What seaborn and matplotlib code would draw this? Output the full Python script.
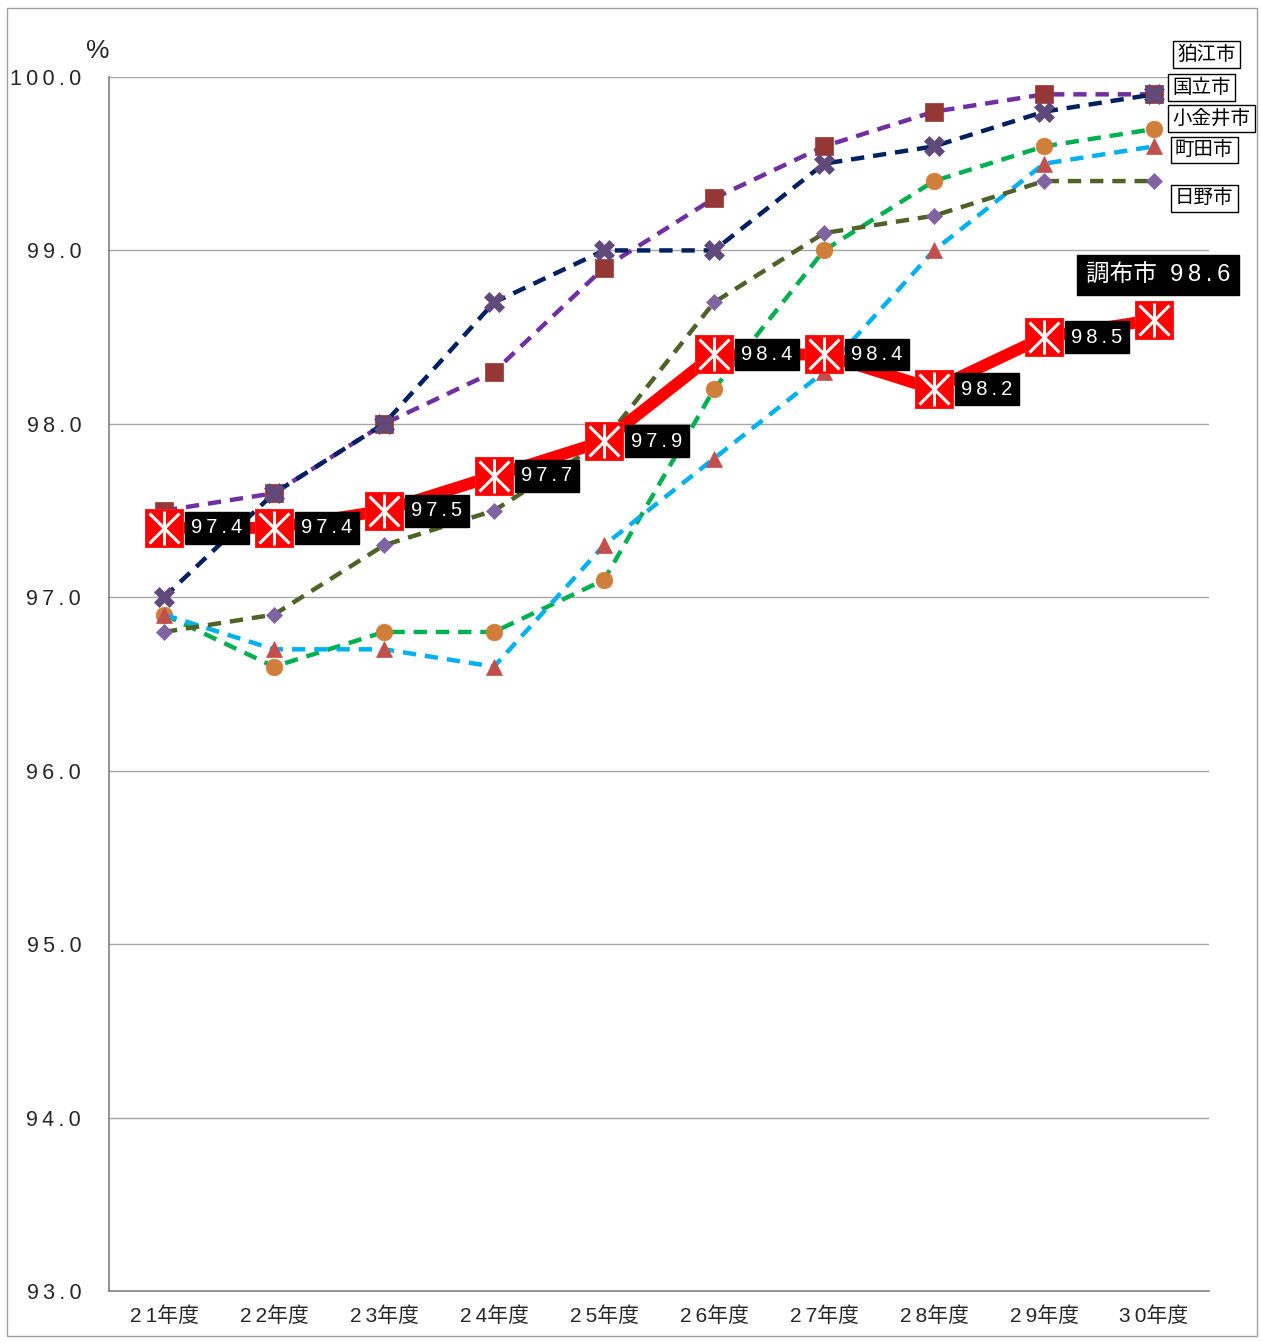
import matplotlib
matplotlib.use("Agg")
import matplotlib.pyplot as plt
import matplotlib.patches as patches
import numpy as np
import seaborn as sns

# data
years = ["21年度", "22年度", "23年度", "24年度", "25年度",
         "26年度", "27年度", "28年度", "29年度", "30年度"]
komae = [97.5, 97.6, 98.0, 98.3, 98.9, 99.3, 99.6, 99.8, 99.9, 99.9]
kunitachi = [97.0, 97.6, 98.0, 98.7, 99.0, 99.0, 99.5, 99.6, 99.8, 99.9]
koganei = [96.9, 96.6, 96.8, 96.8, 97.1, 98.2, 99.0, 99.4, 99.6, 99.7]
machida = [96.9, 96.7, 96.7, 96.6, 97.3, 97.8, 98.3, 99.0, 99.5, 99.6]
hino = [96.8, 96.9, 97.3, 97.5, 97.9, 98.7, 99.1, 99.2, 99.4, 99.4]
chofu = [97.4, 97.4, 97.5, 97.7, 97.9, 98.4, 98.4, 98.2, 98.5, 98.6]
city_names = ["狛江市", "国立市", "小金井市", "町田市", "日野市"]
y_ticks = [93.0, 94.0, 95.0, 96.0, 97.0, 98.0, 99.0, 100.0]

sns.set_style("white")
plt.rcParams['font.family'] = ['Liberation Sans', 'DejaVu Sans', 'Noto Sans CJK JP']

TS = "\u2009"  # thin space for letter spacing


def spaced(s):
    return TS.join(list(s))


fig = plt.figure(figsize=(12.61, 13.43), dpi=100)
ax = fig.add_axes([109 / 1261, 1 - 1291 / 1343, 1100 / 1261, 1214 / 1343])

x = np.arange(len(years))

# other cities: (values, line colour, marker, marker size, marker colour)
series = [
    (komae, "#7030A0", "s", 13, "#953735"),
    (kunitachi, "#002060", "X", 14, "#604A7B"),
    (koganei, "#00B050", "o", 12, "#D07F3A"),
    (machida, "#00B0F0", "^", 12, "#C0504D"),
    (hino, "#4F6228", "D", 8.5, "#8064A2"),
]
for i, (vals, lc, mk, ms, mc) in enumerate(series):
    sns.lineplot(x=x, y=vals, ax=ax, color=lc, linewidth=3.2, linestyle=(0, (3, 2)),
                 marker=mk, markersize=ms, markerfacecolor=mc, markeredgecolor=mc,
                 markeredgewidth=0.5, errorbar=None, clip_on=False, zorder=3 + i)

# 調布市
sns.lineplot(x=x, y=chofu, ax=ax, color="#FF0000", linewidth=8.5, marker="s",
             markersize=27, markerfacecolor="#FF0000", markeredgecolor="#FF2020",
             errorbar=None, clip_on=False, zorder=10)
sns.lineplot(x=x, y=chofu, ax=ax, linestyle="none", marker="x", markersize=21,
             markeredgecolor="white", markeredgewidth=2.2, errorbar=None,
             clip_on=False, zorder=11)
sns.lineplot(x=x, y=chofu, ax=ax, linestyle="none", marker="|", markersize=25,
             markeredgecolor="white", markeredgewidth=2.2, errorbar=None,
             clip_on=False, zorder=11)

for xi, v in zip(x[:-1], chofu[:-1]):
    ax.annotate(spaced(f"{v:.1f}"), xy=(xi, v), xytext=(19.5, 0), textcoords="offset points",
                ha="left", va="center", fontsize=14.5, color="white", zorder=12,
                bbox=dict(boxstyle="square,pad=0.32", fc="black", ec="black"))
ax.annotate("調布市  " + spaced(f"{chofu[-1]:.1f}"), xy=(x[-1], chofu[-1]), xytext=(3, 32),
            textcoords="offset points", ha="center", va="center", fontsize=17,
            color="white", zorder=12,
            bbox=dict(boxstyle="square,pad=0.38", fc="black", ec="black"))

# city name labels on the right
label_y = [100.13, 99.94, 99.76, 99.58, 99.30]
label_x = [9.21, 9.17, 9.17, 9.19, 9.19]
for name, lx, ly in zip(city_names, label_x, label_y):
    ax.text(lx, ly, name, ha="left", va="center", fontsize=14, color="black",
            clip_on=False, zorder=13,
            bbox=dict(boxstyle="square,pad=0.22", fc="white", ec="black", lw=1))

ax.set_xlim(-0.5, len(years) - 0.5)
ax.set_ylim(93, 100)
ax.set_yticks(y_ticks)
ax.set_yticklabels([spaced(f"{t:.1f}") for t in y_ticks], fontsize=15.5)
ax.set_xticks(x)
ax.set_xticklabels([TS.join(list(y[:2])) + y[2:] for y in years], fontsize=15)
ax.set_xticks(np.arange(-0.5, len(years)), minor=True)
ax.tick_params(axis="x", which="major", length=0, pad=11)
ax.tick_params(axis="x", which="minor", length=6, color="#808080", direction="out")
ax.tick_params(axis="y", which="major", length=6, color="#808080", direction="out", pad=14)
ax.set_xlabel("")
ax.set_ylabel("")

ax.grid(axis="y", color="#A6A6A6", linewidth=1)
ax.grid(axis="x", visible=False)
ax.set_axisbelow(True)
for side in ["top", "right"]:
    ax.spines[side].set_visible(False)
for side in ["left", "bottom"]:
    ax.spines[side].set_color("#808080")
    ax.spines[side].set_linewidth(1.2)

fig.text(98 / 1261, 1 - 51 / 1343, "%", ha="center", va="center", fontsize=19)

# outer frame
fig.patches.append(patches.Rectangle((7 / 1261, 1 - 1336 / 1343), 1250 / 1261, 1328 / 1343,
                                     transform=fig.transFigure, fill=False,
                                     ec="#A0A0A0", lw=1))

fig.savefig("out.png", dpi=100)
